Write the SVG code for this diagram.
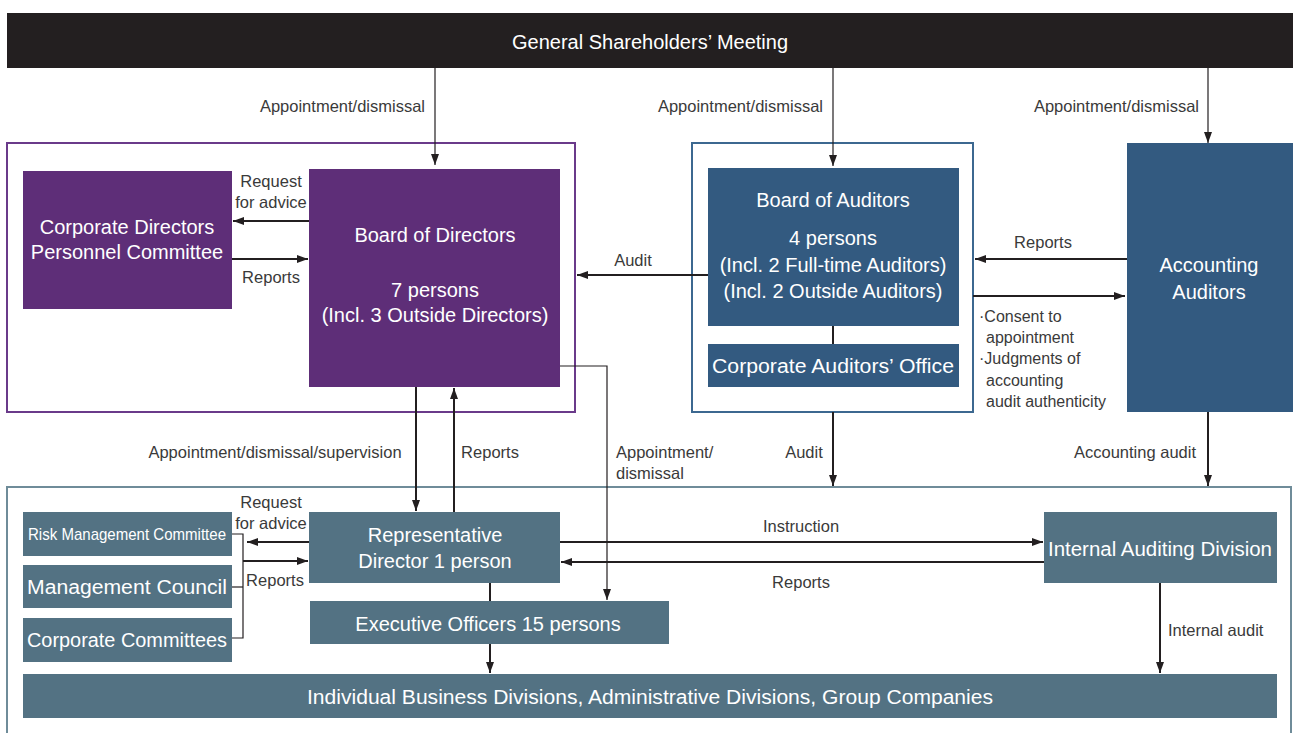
<svg xmlns="http://www.w3.org/2000/svg" width="1293" height="733" viewBox="0 0 1293 733">
<style>
  text { font-family: "Liberation Sans", Arial, sans-serif; }
  .bt { fill: #ffffff; font-size: 20px; text-anchor: middle; }
  .lb { fill: #3a3a3a; font-size: 16.5px; }
  .sm { font-size: 16px; }
  .mid { text-anchor: middle; }
  .end { text-anchor: end; }
  .purple { fill: #5e2e78; }
  .blue { fill: #335a80; }
  .grey { fill: #537283; }
  .ln { stroke: #231f20; stroke-width: 2; fill: none; }
  .thin { stroke: #231f20; stroke-width: 1.2; fill: none; }
</style>
<defs>
  <marker id="ah" markerUnits="userSpaceOnUse" markerWidth="11" markerHeight="8" refX="11" refY="4" orient="auto">
    <path d="M0,0 L11,4 L0,8 z" fill="#231f20"/>
  </marker>
</defs>

<!-- Header -->
<g id="gsm">
  <rect x="7" y="13" width="1286" height="55" fill="#231f20"/>
  <text class="bt" x="650" y="49">General Shareholders’ Meeting</text>
</g>

<!-- Outer frames -->
<g id="directors-frame">
  <rect x="7" y="143" width="568" height="269" fill="none" stroke="#6a3a8a" stroke-width="2"/>
</g>
<g id="auditors-frame">
  <rect x="692" y="143" width="281" height="269" fill="none" stroke="#3c6890" stroke-width="2"/>
</g>
<g id="execution-frame">
  <rect x="7" y="487" width="1284" height="250" fill="none" stroke="#6f8c99" stroke-width="2"/>
</g>

<!-- Nodes -->
<g id="cdpc">
  <rect class="purple" x="23" y="171" width="209" height="138"/>
  <text class="bt" x="127" y="234">Corporate Directors</text>
  <text class="bt" x="127" y="259">Personnel Committee</text>
</g>
<g id="bod">
  <rect class="purple" x="309" y="169" width="251" height="218"/>
  <text class="bt" x="435" y="242">Board of Directors</text>
  <text class="bt" x="435" y="297">7 persons</text>
  <text class="bt" x="435" y="322">(Incl. 3 Outside Directors)</text>
</g>
<g id="boa">
  <rect class="blue" x="708" y="168" width="251" height="158"/>
  <text class="bt" x="833" y="207">Board of Auditors</text>
  <text class="bt" x="833" y="245">4 persons</text>
  <text class="bt" x="833" y="272">(Incl. 2 Full-time Auditors)</text>
  <text class="bt" x="833" y="298">(Incl. 2 Outside Auditors)</text>
</g>
<g id="cao">
  <rect class="blue" x="708" y="344" width="251" height="43"/>
  <text class="bt" x="833" y="373" textLength="242" lengthAdjust="spacingAndGlyphs">Corporate Auditors’ Office</text>
</g>
<g id="acc">
  <rect class="blue" x="1127" y="143" width="166" height="269"/>
  <text class="bt" x="1209" y="272">Accounting</text>
  <text class="bt" x="1209" y="299">Auditors</text>
</g>
<g id="rd">
  <rect class="grey" x="309" y="512" width="251" height="71"/>
  <text class="bt" x="435" y="542">Representative</text>
  <text class="bt" x="435" y="568">Director 1 person</text>
</g>
<g id="eo">
  <rect class="grey" x="310" y="601" width="359" height="43"/>
  <text class="bt" x="488" y="631">Executive Officers 15 persons</text>
</g>
<g id="rmc">
  <rect class="grey" x="23" y="512" width="209" height="44"/>
  <text class="bt" x="127" y="540" style="font-size:17px" textLength="198" lengthAdjust="spacingAndGlyphs">Risk Management Committee</text>
</g>
<g id="mc">
  <rect class="grey" x="23" y="565" width="209" height="43"/>
  <text class="bt" x="127" y="594" textLength="200" lengthAdjust="spacingAndGlyphs">Management Council</text>
</g>
<g id="cc">
  <rect class="grey" x="23" y="618" width="209" height="44"/>
  <text class="bt" x="127" y="647" textLength="200" lengthAdjust="spacingAndGlyphs">Corporate Committees</text>
</g>
<g id="iad">
  <rect class="grey" x="1044" y="512" width="233" height="71"/>
  <text class="bt" x="1160" y="556" textLength="224" lengthAdjust="spacingAndGlyphs">Internal Auditing Division</text>
</g>
<g id="ibd">
  <rect class="grey" x="23" y="674" width="1254" height="44"/>
  <text class="bt" x="650" y="704" textLength="686" lengthAdjust="spacingAndGlyphs">Individual Business Divisions, Administrative Divisions, Group Companies</text>
</g>

<!-- Connectors -->
<g id="connectors">
  <line class="thin" x1="435" y1="68" x2="435" y2="165" marker-end="url(#ah)"/>
  <line class="thin" x1="833" y1="68" x2="833" y2="166" marker-end="url(#ah)"/>
  <line class="thin" x1="1208" y1="68" x2="1208" y2="143" marker-end="url(#ah)"/>

  <line class="ln" x1="309" y1="221" x2="233" y2="221" marker-end="url(#ah)"/>
  <line class="ln" x1="232" y1="259" x2="308" y2="259" marker-end="url(#ah)"/>

  <line class="ln" x1="708" y1="275" x2="577" y2="275" marker-end="url(#ah)"/>
  <line class="ln" x1="1127" y1="259" x2="975" y2="259" marker-end="url(#ah)"/>
  <line class="ln" x1="973" y1="296" x2="1125" y2="296" marker-end="url(#ah)"/>
  <line class="ln" x1="833" y1="326" x2="833" y2="344"/>

  <line class="ln" x1="416" y1="387" x2="416" y2="511" marker-end="url(#ah)"/>
  <line class="ln" x1="454" y1="512" x2="454" y2="388" marker-end="url(#ah)"/>
  <polyline class="thin" points="560,366 607,366 607,600" marker-end="url(#ah)"/>

  <line class="ln" x1="833" y1="412" x2="833" y2="486" marker-end="url(#ah)"/>
  <line class="ln" x1="1208" y1="412" x2="1208" y2="486" marker-end="url(#ah)"/>

  <polyline class="thin" points="232,534 243,534 243,638 232,638"/>
  <line class="thin" x1="232" y1="587" x2="243" y2="587"/>
  <line class="ln" x1="309" y1="542" x2="247" y2="542" marker-end="url(#ah)"/>
  <line class="ln" x1="243" y1="561" x2="308" y2="561" marker-end="url(#ah)"/>

  <line class="ln" x1="560" y1="542" x2="1043" y2="542" marker-end="url(#ah)"/>
  <line class="ln" x1="1044" y1="562" x2="561" y2="562" marker-end="url(#ah)"/>

  <line class="ln" x1="490" y1="583" x2="490" y2="601"/>
  <line class="ln" x1="490" y1="644" x2="490" y2="673" marker-end="url(#ah)"/>
  <line class="ln" x1="1160" y1="583" x2="1160" y2="673" marker-end="url(#ah)"/>

  <!-- connector labels -->
  <text class="lb end" x="425" y="112">Appointment/dismissal</text>
  <text class="lb end" x="823" y="112">Appointment/dismissal</text>
  <text class="lb end" x="1199" y="112">Appointment/dismissal</text>
  <text class="lb mid" x="271" y="187">Request</text>
  <text class="lb mid" x="271" y="208">for advice</text>
  <text class="lb mid" x="271" y="283">Reports</text>
  <text class="lb mid" x="633" y="266">Audit</text>
  <text class="lb mid" x="1043" y="248">Reports</text>
  <text class="lb sm" x="979" y="322">·Consent to</text>
  <text class="lb sm" x="986" y="343">appointment</text>
  <text class="lb sm" x="979" y="364">·Judgments of</text>
  <text class="lb sm" x="986" y="386">accounting</text>
  <text class="lb sm" x="986" y="407">audit authenticity</text>
  <text class="lb mid" x="275" y="458">Appointment/dismissal/supervision</text>
  <text class="lb mid" x="490" y="458">Reports</text>
  <text class="lb" x="616" y="458">Appointment/</text>
  <text class="lb" x="616" y="479">dismissal</text>
  <text class="lb mid" x="804" y="458">Audit</text>
  <text class="lb mid" x="1135" y="458">Accounting audit</text>
  <text class="lb mid" x="271" y="508">Request</text>
  <text class="lb mid" x="271" y="529">for advice</text>
  <text class="lb mid" x="275" y="586">Reports</text>
  <text class="lb mid" x="801" y="532">Instruction</text>
  <text class="lb mid" x="801" y="588">Reports</text>
  <text class="lb" x="1168" y="636">Internal audit</text>
</g>
</svg>
